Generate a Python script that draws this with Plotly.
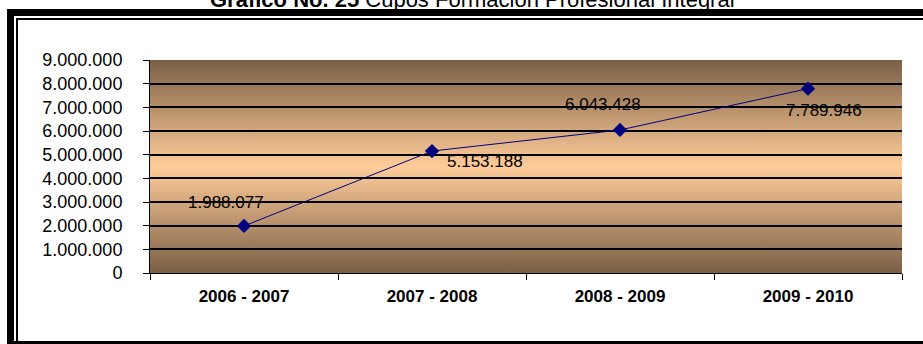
import base64
import plotly.graph_objects as go

# Cupos de Formación Profesional Integral por periodo
periodos = ["2006 - 2007", "2007 - 2008", "2008 - 2009", "2009 - 2010"]
cupos = [1988077, 5153188, 6043428, 7789946]

titulo_bold = "Gráfico No. 25"
titulo_resto = " Cupos Formación Profesional Integral"

# label offsets (pixels) relative to each marker
label_dx = [-18, 53, -17, 16]
label_dy = [23, -10, 25, -22]

W, H = 923, 344
L, R, T, B = 150, 902, 60, 273
FONT = "Arial, Liberation Sans, sans-serif"


def px_x(p):
    return (p - L) / (R - L)


def px_y(p):
    return (B - p) / (B - T)


def fmt(v):
    return f"{v:,}".replace(",", ".")


# vertical brown-peach-brown gradient for the plotting area
svg = (
    '<svg xmlns="http://www.w3.org/2000/svg" width="100" height="100" preserveAspectRatio="none">'
    '<defs><linearGradient id="g" x1="0" y1="0" x2="0" y2="1">'
    '<stop offset="0" stop-color="#7a5f46"/>'
    '<stop offset="0.5" stop-color="#ffcc99"/>'
    '<stop offset="1" stop-color="#7a5f46"/>'
    '</linearGradient></defs>'
    '<rect width="100" height="100" fill="url(#g)"/></svg>'
)
bg_uri = "data:image/svg+xml;base64," + base64.b64encode(svg.encode()).decode()

fig = go.Figure()
fig.add_trace(go.Scatter(
    x=periodos, y=cupos, mode="lines+markers",
    line=dict(color="#000080", width=1),
    marker=dict(symbol="diamond", size=11, color="#000080"),
    hoverinfo="skip", showlegend=False,
))

annotations = []
for p, v, dx, dy in zip(periodos, cupos, label_dx, label_dy):
    annotations.append(dict(
        x=p, y=v, xref="x", yref="y", text=fmt(v), showarrow=False,
        xshift=dx, yshift=dy, xanchor="center", yanchor="middle",
        font=dict(family=FONT, size=17, color="black"),
    ))

annotations.append(dict(
    x=px_x(472), y=px_y(0), xref="paper", yref="paper",
    text=f"<b>{titulo_bold}</b>{titulo_resto}", showarrow=False,
    xanchor="center", yanchor="middle",
    font=dict(family=FONT, size=22, color="black"),
))

shapes = [
    # outer heavy frame
    dict(type="rect", xref="paper", yref="paper",
         x0=px_x(10.5), x1=px_x(1400), y0=px_y(12.5), y1=px_y(344.5),
         line=dict(color="black", width=7), fillcolor="rgba(0,0,0,0)", layer="above"),
    # inner thin frame
    dict(type="rect", xref="paper", yref="paper",
         x0=px_x(17), x1=px_x(1400), y0=px_y(19), y1=px_y(500),
         line=dict(color="black", width=2), fillcolor="rgba(0,0,0,0)", layer="above"),
]

fig.update_layout(
    width=W, height=H,
    margin=dict(l=L, r=W - R, t=T, b=H - B),
    paper_bgcolor="white", plot_bgcolor="rgba(0,0,0,0)",
    separators=",.",
    font=dict(family=FONT, color="black"),
    annotations=annotations,
    shapes=shapes,
    images=[dict(source=bg_uri, xref="paper", yref="paper", x=0, y=1,
                 sizex=1, sizey=1, sizing="stretch", xanchor="left",
                 yanchor="top", layer="below")],
    xaxis=dict(
        type="category", range=[-0.5, 3.5], tickson="boundaries",
        ticks="outside", ticklen=6, tickcolor="black", tickwidth=1,
        showline=True, linecolor="black", linewidth=1, showgrid=False,
        tickfont=dict(family=FONT, size=17, color="black", weight="bold"),
        ticklabelstandoff=8, zeroline=False,
    ),
    yaxis=dict(
        range=[0, 9000000], dtick=1000000, tickformat=",d",
        ticks="outside", ticklen=6, tickcolor="black", tickwidth=1,
        showline=True, linecolor="black", linewidth=1,
        showgrid=True, gridcolor="black", gridwidth=1.5, zeroline=False,
        tickfont=dict(family=FONT, size=18, color="black"),
        ticklabelstandoff=17,
    ),
)

fig.write_html("out.html")
